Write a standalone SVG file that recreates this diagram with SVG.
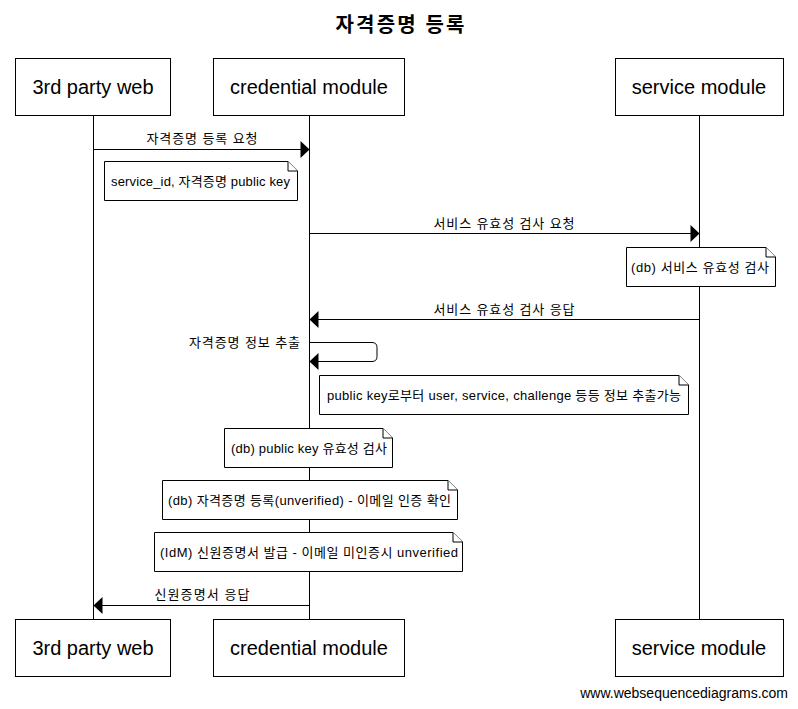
<svg xmlns="http://www.w3.org/2000/svg" width="798" height="709" viewBox="0 0 798 709">
  <style>
    text { font-family: "Liberation Sans", "Noto Sans CJK KR", sans-serif; fill: #000; }
    .title { font-size: 20px; font-weight: bold; text-anchor: middle; }
    .actor rect { fill: #fff; stroke: #000; stroke-width: 1; }
    .actor text { font-size: 20px; text-anchor: middle; }
    .life { stroke: #000; stroke-width: 1; fill: none; }
    .msg line, .msg path { stroke: #000; stroke-width: 1; fill: none; }
    .msg polygon { fill: #000; stroke: none; }
    .lbl { font-size: 13px; text-anchor: middle; }
    .note path { fill: #fff; stroke: #000; stroke-width: 1; }
    .note text { font-size: 13px; }
    .foot { font-size: 14px; text-anchor: end; }
  </style>

  <text class="title" x="400" y="32" textLength="129" lengthAdjust="spacing">자격증명 등록</text>

  <!-- lifelines -->
  <g id="lifelines">
    <line class="life" x1="93.5" y1="115" x2="93.5" y2="619"/>
    <line class="life" x1="309.5" y1="115" x2="309.5" y2="619"/>
    <line class="life" x1="699.5" y1="115" x2="699.5" y2="619"/>
  </g>

  <!-- participants -->
  <g id="web-top" class="actor"><rect x="15.5" y="58.5" width="155" height="57"/><text x="93" y="94">3rd party web</text></g>
  <g id="cred-top" class="actor"><rect x="213.5" y="58.5" width="191" height="57"/><text x="309" y="94">credential module</text></g>
  <g id="svc-top" class="actor"><rect x="615.5" y="58.5" width="168" height="57"/><text x="699" y="94">service module</text></g>

  <g id="web-bottom" class="actor"><rect x="15.5" y="619.5" width="155" height="57"/><text x="93" y="655">3rd party web</text></g>
  <g id="cred-bottom" class="actor"><rect x="213.5" y="619.5" width="191" height="57"/><text x="309" y="655">credential module</text></g>
  <g id="svc-bottom" class="actor"><rect x="615.5" y="619.5" width="168" height="57"/><text x="699" y="655">service module</text></g>

  <!-- messages -->
  <g id="connectors">
    <g class="msg">
      <line x1="93.5" y1="149.5" x2="301" y2="149.5"/>
      <polygon points="309.5,149.5 300.5,141 300.5,158"/>
      <text class="lbl" x="202" y="143" textLength="111" lengthAdjust="spacing">자격증명 등록 요청</text>
    </g>
    <g class="msg">
      <line x1="309.5" y1="233.5" x2="691" y2="233.5"/>
      <polygon points="699.5,233.5 690.5,225 690.5,242"/>
      <text class="lbl" x="504" y="228" textLength="141" lengthAdjust="spacing">서비스 유효성 검사 요청</text>
    </g>
    <g class="msg">
      <line x1="318" y1="319.5" x2="699.5" y2="319.5"/>
      <polygon points="309.5,319.5 318.5,311 318.5,328"/>
      <text class="lbl" x="504" y="314" textLength="141" lengthAdjust="spacing">서비스 유효성 검사 응답</text>
    </g>
    <g class="msg">
      <path d="M309.5,342.5 H372 Q377,342.5 377,347.5 V356.5 Q377,361.5 372,361.5 H318"/>
      <polygon points="309.5,361.5 318.5,353 318.5,370"/>
      <text class="lbl" x="300" y="347" style="text-anchor:end" textLength="111" lengthAdjust="spacing">자격증명 정보 추출</text>
    </g>
    <g class="msg">
      <line x1="102" y1="605.5" x2="309.5" y2="605.5"/>
      <polygon points="93.5,605.5 102.5,597 102.5,614"/>
      <text class="lbl" x="202" y="599" textLength="95" lengthAdjust="spacing">신원증명서 응답</text>
    </g>
  </g>

  <!-- notes -->
  <g id="note-request" class="note">
    <path d="M104.5,161.5 H288 L297.5,171 V200.5 H104.5 Z"/>
    <path d="M288,161.5 V171 H297.5"/>
    <text x="111" y="186" textLength="179" lengthAdjust="spacing">service_id, 자격증명 public key</text>
  </g>
  <g id="note-service-check" class="note">
    <path d="M626.5,247.5 H766 L775.5,257 V286.5 H626.5 Z"/>
    <path d="M766,247.5 V257 H775.5"/>
    <text x="631" y="272" textLength="138" lengthAdjust="spacing">(db) 서비스 유효성 검사</text>
  </g>
  <g id="note-extract" class="note">
    <path d="M319.5,375.5 H679 L688.5,385 V414.5 H319.5 Z"/>
    <path d="M679,375.5 V385 H688.5"/>
    <text x="327" y="400" textLength="354" lengthAdjust="spacing">public key로부터 user, service, challenge 등등 정보 추출가능</text>
  </g>
  <g id="note-key-check" class="note">
    <path d="M224.5,428.5 H383 L392.5,438 V467.5 H224.5 Z"/>
    <path d="M383,428.5 V438 H392.5"/>
    <text x="231" y="453" textLength="156" lengthAdjust="spacing">(db) public key 유효성 검사</text>
  </g>
  <g id="note-register" class="note">
    <path d="M162.5,480.5 H448 L457.5,490 V519.5 H162.5 Z"/>
    <path d="M448,480.5 V490 H457.5"/>
    <text x="168" y="505" textLength="283" lengthAdjust="spacing">(db) 자격증명 등록(unverified) - 이메일 인증 확인</text>
  </g>
  <g id="note-issue" class="note">
    <path d="M154.5,532.5 H453 L462.5,542 V571.5 H154.5 Z"/>
    <path d="M453,532.5 V542 H462.5"/>
    <text x="160" y="557" textLength="298" lengthAdjust="spacing">(IdM) 신원증명서 발급 - 이메일 미인증시 unverified</text>
  </g>

  <text class="foot" x="788" y="698">www.websequencediagrams.com</text>
</svg>
